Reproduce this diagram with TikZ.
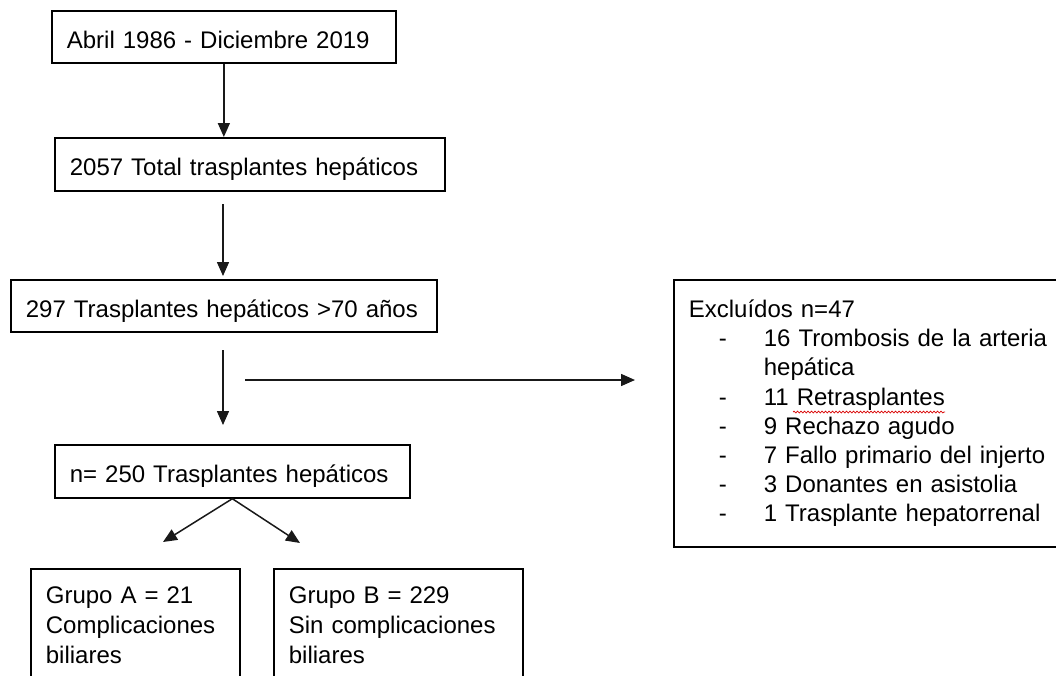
\documentclass[tikz,border=0pt]{standalone}
\usepackage{fontspec}
\setmainfont{Liberation Sans}
\usetikzlibrary{arrows.meta,decorations.pathmorphing}
\begin{document}
\begin{tikzpicture}[x=1pt,y=-1pt,
  box/.style={draw=black, line width=1.7pt, anchor=north west, inner xsep=15pt, inner ysep=0pt,
    align=left, font=\fontsize{24}{29}\selectfont},
  one/.style={box, text height=23pt, text depth=0pt},
  arr/.style={line width=1.5pt, draw=black!90, -{Triangle[length=14pt,width=12pt]}},
  squiggle/.style={draw=red!85!black, line width=0.7pt, decorate,
    decoration={snake, segment length=3.5pt, amplitude=0.9pt}}]
\useasboundingbox (0,0) rectangle (1056,675);
\clip (0,0) rectangle (1056,675);
\fill[white] (0,0) rectangle (1056,675);

\node[one, minimum width=344pt, minimum height=52pt, text width=314pt] (b1) at (51,10)
  {Abril 1986 - Diciembre 2019};
\node[one, minimum width=390pt, minimum height=53pt, text width=360pt] (b2) at (54,137)
  {2057 Total trasplantes hepáticos};
\node[one, minimum width=426pt, minimum height=52pt, text width=396pt] (b3) at (10,279)
  {297 Trasplantes hepáticos >70 años};
\node[one, minimum width=355pt, minimum height=53pt, text width=325pt] (b4) at (54,444)
  {n= 250 Trasplantes hepáticos};
\node[box, font=\fontsize{24}{30}\selectfont, minimum width=209pt, minimum height=112pt, text width=179pt] (b5) at (30,568)
  {Grupo A = 21\\Complicaciones\\biliares};
\node[box, font=\fontsize{24}{30}\selectfont, minimum width=249pt, minimum height=112pt, text width=219pt] (b6) at (273,568)
  {Grupo B = 229\\Sin complicaciones\\biliares};
\node[box, font=\fontsize{24}{29.2}\selectfont, minimum width=420pt, minimum height=267pt, text width=390pt] (ex) at (673,279)
  {Excluídos n=47\\
   \hspace*{30pt}\makebox[45pt][l]{-}16 Trombosis de la arteria\\
   \hspace*{75pt}hepática\\
   \hspace*{30pt}\makebox[45pt][l]{-}11 Retrasplantes\\
   \hspace*{30pt}\makebox[45pt][l]{-}9 Rechazo agudo\\
   \hspace*{30pt}\makebox[45pt][l]{-}7 Fallo primario del injerto\\
   \hspace*{30pt}\makebox[45pt][l]{-}3 Donantes en asistolia\\
   \hspace*{30pt}\makebox[45pt][l]{-}1 Trasplante hepatorrenal};

\coordinate (a2s) at (223,204);
\coordinate (a2e) at (223,276);
\coordinate (a3s) at (223,350);
\coordinate (a3e) at (223,425);
\coordinate (hs) at (245,380);
\coordinate (he) at (635,380);
\coordinate (d1) at (163,542);
\coordinate (d2) at (300,543);
\coordinate (sq1) at (793,412);
\coordinate (sq2) at (945,412);

\draw[arr] (b1.south) -- (b1.south |- b2.north);
\draw[arr] (a2s) -- (a2e);
\draw[arr] (a3s) -- (a3e);
\draw[arr] (hs) -- (he);
\draw[arr] (b4.south) -- (d1);
\draw[arr] (b4.south) -- (d2);
\draw[squiggle] (sq1) -- (sq2);
\end{tikzpicture}
\end{document}
